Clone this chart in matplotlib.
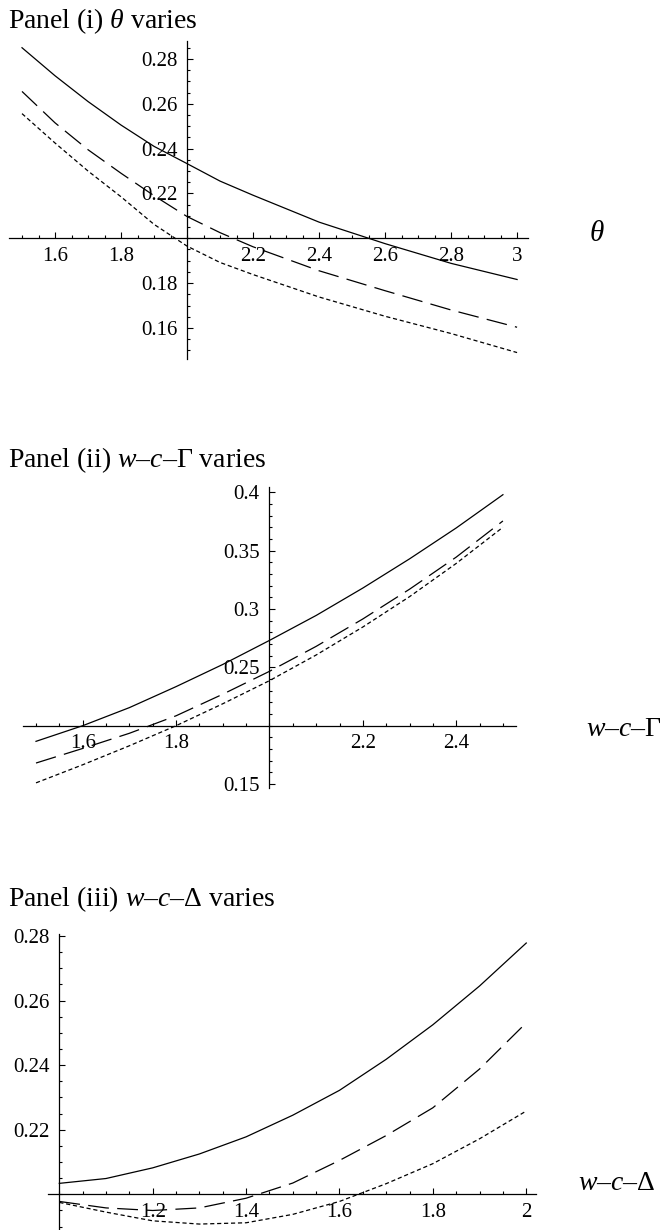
import matplotlib
matplotlib.use("Agg")
import matplotlib.pyplot as plt
from matplotlib.ticker import MultipleLocator

plt.rcParams["font.family"] = ["Liberation Serif", "DejaVu Serif"]
plt.rcParams["mathtext.fontset"] = "custom"
plt.rcParams["mathtext.rm"] = "Liberation Serif"
plt.rcParams["mathtext.it"] = "Liberation Serif:italic"
plt.rcParams["lines.scale_dashes"] = False

# ---- data ----
# Panel (i): theta varies
theta = [1.5, 1.6, 1.7, 1.8, 1.9, 2.0, 2.1, 2.2, 2.4, 2.6, 2.8, 3.0]
theta_solid = [0.285, 0.2725, 0.261, 0.2505, 0.241, 0.2333, 0.2255, 0.2192, 0.2072, 0.1976, 0.1888, 0.1816]
theta_long = [0.2655, 0.2515, 0.2395, 0.229, 0.219, 0.2097, 0.2025, 0.1962, 0.1855, 0.1766, 0.168, 0.1603]
theta_short = [0.2556, 0.2425, 0.230, 0.2185, 0.2062, 0.1965, 0.1892, 0.1838, 0.1738, 0.1652, 0.1575, 0.149]
theta_xticks = [1.6, 1.8, 2.2, 2.4, 2.6, 2.8, 3.0]
theta_xlabels = ["1.6", "1.8", "2.2", "2.4", "2.6", "2.8", "3"]
theta_yticks = [0.16, 0.18, 0.22, 0.24, 0.26, 0.28]
theta_ylabels = ["0.16", "0.18", "0.22", "0.24", "0.26", "0.28"]

# Panel (ii): w-c-Gamma varies
gam = [1.5, 1.6, 1.7, 1.8, 1.9, 2.0, 2.1, 2.2, 2.3, 2.4, 2.5]
gam_solid = [0.1866, 0.200, 0.2155, 0.2335, 0.2525, 0.2731, 0.2945, 0.318, 0.343, 0.3695, 0.398]
gam_long = [0.168, 0.1805, 0.1935, 0.2085, 0.227, 0.2466, 0.268, 0.2915, 0.317, 0.3445, 0.3755]
gam_short = [0.151, 0.1665, 0.1828, 0.200, 0.2188, 0.2386, 0.2606, 0.2846, 0.3106, 0.3391, 0.3701]
gam_xticks = [1.6, 1.8, 2.2, 2.4]
gam_xlabels = ["1.6", "1.8", "2.2", "2.4"]
gam_yticks = [0.15, 0.25, 0.3, 0.35, 0.4]
gam_ylabels = ["0.15", "0.25", "0.3", "0.35", "0.4"]

# Panel (iii): w-c-Delta varies
dlt = [1.0, 1.1, 1.2, 1.3, 1.4, 1.5, 1.6, 1.7, 1.8, 1.9, 2.0]
dlt_solid = [0.2034, 0.2049, 0.2082, 0.2125, 0.2178, 0.2245, 0.2322, 0.2418, 0.2525, 0.2645, 0.2778]
dlt_long = [0.1978, 0.1958, 0.1950, 0.1958, 0.1988, 0.2035, 0.2105, 0.2182, 0.2268, 0.2388, 0.2531]
dlt_short = [0.1975, 0.1945, 0.1918, 0.1908, 0.1912, 0.1938, 0.1978, 0.2033, 0.2095, 0.2172, 0.2258]
dlt_xticks = [1.2, 1.4, 1.6, 1.8, 2.0]
dlt_xlabels = ["1.2", "1.4", "1.6", "1.8", "2"]
dlt_yticks = [0.22, 0.24, 0.26, 0.28]
dlt_ylabels = ["0.22", "0.24", "0.26", "0.28"]

W, H = 661, 1230
fig = plt.figure(figsize=(W / 100, H / 100), dpi=100)


def add_panel(box, xlim, ylim, origin):
    # box in pixels: left, top, right, bottom
    l, t, r, b = box
    ax = fig.add_axes([l / W, 1 - b / H, (r - l) / W, (b - t) / H])
    ax.set_xlim(*xlim)
    ax.set_ylim(*ylim)
    ax.patch.set_alpha(0)
    for s in ("top", "right"):
        ax.spines[s].set_visible(False)
    ax.spines["left"].set_position(("data", origin[0]))
    ax.spines["bottom"].set_position(("data", origin[1]))
    for s in ("left", "bottom"):
        ax.spines[s].set_linewidth(0.9)
    ax.tick_params(which="both", direction="in", width=0.8, labelsize=15)
    ax.tick_params(which="major", length=4.2)
    ax.tick_params(which="minor", length=2.4)
    ax.tick_params(axis="x", pad=6)
    ax.tick_params(axis="y", pad=7)
    return ax


def draw(ax, x, solid, long, short):
    ax.plot(x, solid, color="black", lw=0.9)
    ax.plot(x, long, color="black", lw=0.9, dashes=(15, 6))
    ax.plot(x, short, color="black", lw=0.9, dashes=(3, 2))


# Panel (i)
ax1 = add_panel((8.8, 41, 528.3, 359.3), (1.46, 3.034), (0.146, 0.288), (2.0, 0.2))
draw(ax1, theta, theta_solid, theta_long, theta_short)
ax1.set_xticks(theta_xticks, theta_xlabels)
ax1.set_yticks(theta_yticks, theta_ylabels)
ax1.xaxis.set_minor_locator(MultipleLocator(0.05))
ax1.yaxis.set_minor_locator(MultipleLocator(0.005))
fig.text(8.4 / W, 1 - 28 / H, r"Panel (i) $\theta$ varies", fontsize=20, va="baseline")
fig.text(597 / W, 1 - 234 / H, r"$\theta$", fontsize=21, ha="center", va="center")

# Panel (ii)
ax2 = add_panel((23.4, 487, 516, 788), (1.473, 2.528), (0.1466, 0.4046), (2.0, 0.2))
draw(ax2, gam, gam_solid, gam_long, gam_short)
ax2.set_xticks(gam_xticks, gam_xlabels)
ax2.set_yticks(gam_yticks, gam_ylabels)
ax2.xaxis.set_minor_locator(MultipleLocator(0.05))
ax2.yaxis.set_minor_locator(MultipleLocator(0.01))
fig.text(8.4 / W, 1 - 467 / H, r"Panel (ii) $w$–$c$–Γ varies", fontsize=20, va="baseline")
fig.text(586 / W, 1 - 730 / H, r"$w$–$c$–Γ", fontsize=20, ha="left", va="center")

# Panel (iii)
ax3 = add_panel((48.1, 934.3, 535.6, 1230.2), (0.976, 2.02), (0.1889, 0.2805), (1.0, 0.2))
draw(ax3, dlt, dlt_solid, dlt_long, dlt_short)
ax3.set_xticks(dlt_xticks, dlt_xlabels)
ax3.set_yticks(dlt_yticks, dlt_ylabels)
ax3.xaxis.set_minor_locator(MultipleLocator(0.05))
ax3.yaxis.set_minor_locator(MultipleLocator(0.005))
fig.text(8.4 / W, 1 - 906 / H, r"Panel (iii) $w$–$c$–Δ varies", fontsize=20, va="baseline")
fig.text(578 / W, 1 - 1184 / H, r"$w$–$c$–Δ", fontsize=20, ha="left", va="center")

fig.savefig("out.png", dpi=100)
